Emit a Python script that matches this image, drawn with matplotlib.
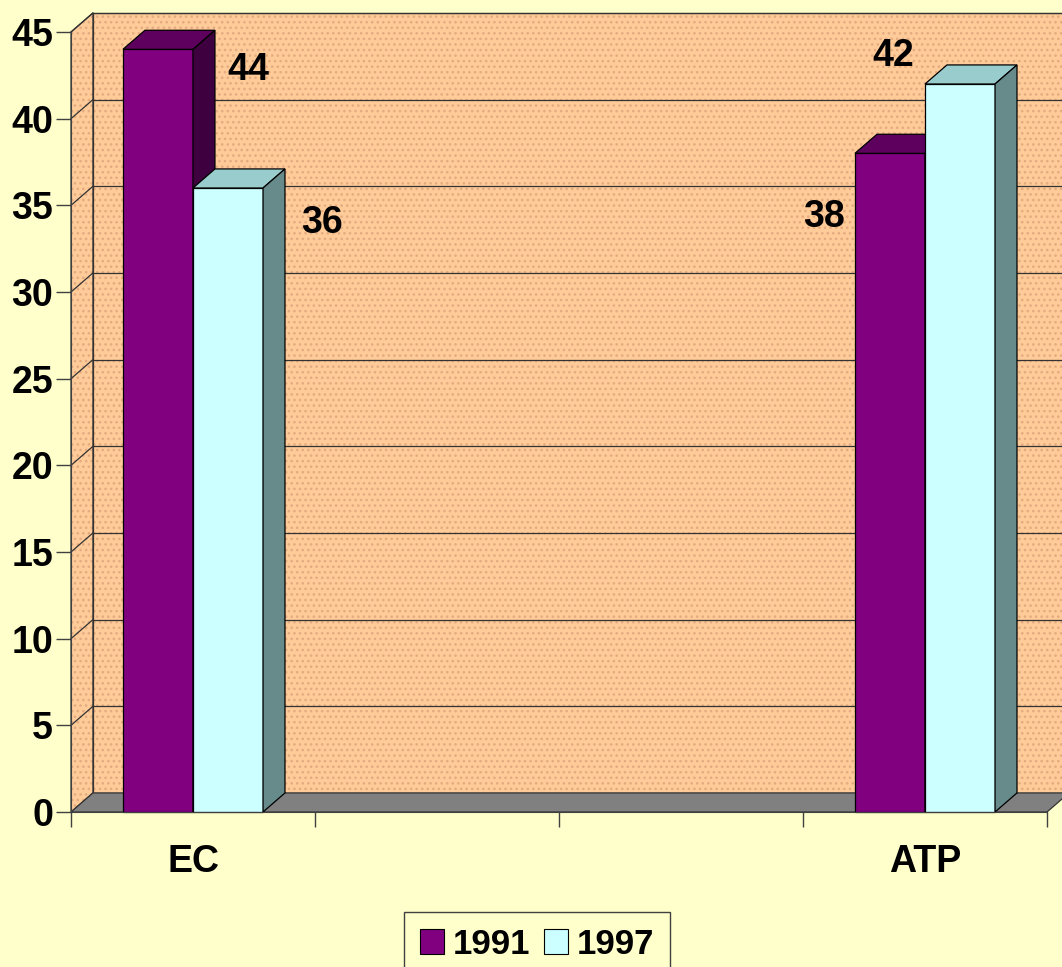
import numpy as np
import matplotlib.pyplot as plt
from matplotlib.patches import Polygon, Patch

# chart data
categories = ['EC', '', '', 'ATP']
series = ['1991', '1997']
values_1991 = [44, np.nan, np.nan, 38]
values_1997 = [36, np.nan, np.nan, 42]
yticks = [0, 5, 10, 15, 20, 25, 30, 35, 40, 45]

plt.rcParams['font.family'] = ['Liberation Sans Narrow', 'Liberation Sans', 'DejaVu Sans']
plt.rcParams['font.weight'] = 'bold'
plt.rcParams['hatch.linewidth'] = 1.1

bg = '#FFFFCC'
wall = '#FFCC99'
dots = '#E4AC80'
face_cols = [('#800080', '#5E005E', '#3E003E'), ('#CCFFFF', '#99CCCC', '#678A8A')]
fs = 27

fig = plt.figure(figsize=(10.62, 9.67), dpi=100, facecolor=bg)
ax = fig.add_axes([71 / 1062, 155 / 967, 976 / 1062, 780 / 967])
n = len(categories)
ymax = yticks[-1]
ax.set_xlim(0, n)
ax.set_ylim(0, ymax)
ax.patch.set_alpha(0)

dx = 0.09   # depth offset (category units)
dz = 1.1    # depth offset (value units)
w = 0.287   # bar width

def poly(pts, fc, ec='black', lw=0.9, z=1, hatch=None):
    p = Polygon(pts, closed=True, facecolor=fc, edgecolor=ec, linewidth=lw,
                zorder=z, clip_on=False, hatch=hatch)
    ax.add_patch(p)

# walls with dotted texture
back = [(dx, dz), (n + dx, dz), (n + dx, ymax + dz), (dx, ymax + dz)]
left = [(0, 0), (dx, dz), (dx, ymax + dz), (0, ymax)]
for pts in (back, left):
    poly(pts, wall, ec=dots, lw=0, z=0, hatch='...')
    poly(pts, 'none', ec='#333333', lw=0.9, z=0.5)

# gridlines on walls
for t in yticks[1:]:
    ax.plot([dx, n + dx], [t + dz, t + dz], color='#333333', lw=0.9, zorder=1, clip_on=False)
    ax.plot([0, dx], [t, t + dz], color='#333333', lw=0.9, zorder=1, clip_on=False)

# floor
poly([(0, 0), (n, 0), (n + dx, dz), (dx, dz)], '#808080', ec='#333333', z=2)

# 3D bars
for j, vals in enumerate([values_1991, values_1997]):
    front, top, side = face_cols[j]
    for i, v in enumerate(vals):
        if np.isnan(v):
            continue
        x0 = i + 0.5 - w + j * w
        x1 = x0 + w
        z = 3 + j
        poly([(x0, 0), (x1, 0), (x1, v), (x0, v)], front, z=z)
        poly([(x0, v), (x1, v), (x1 + dx, v + dz), (x0 + dx, v + dz)], top, z=z)
        poly([(x1, 0), (x1 + dx, dz), (x1 + dx, v + dz), (x1, v)], side, z=z)

# value labels (offsets from bar centre)
label_offsets = {(0, 0): (0.37, -1.2), (1, 0): (0.385, -2.0),
                 (0, 3): (-0.27, -3.7), (1, 3): (-0.275, 1.6)}
for j, vals in enumerate([values_1991, values_1997]):
    for i, v in enumerate(vals):
        if np.isnan(v):
            continue
        xc = i + 0.5 - w / 2 + j * w
        ox, oy = label_offsets[(j, i)]
        ax.text(xc + ox, v + oy, f'{v:g}', ha='center', va='center',
                fontsize=fs, fontweight='bold', zorder=10)

# axes
for s in ['top', 'right']:
    ax.spines[s].set_visible(False)
for s in ['left', 'bottom']:
    ax.spines[s].set_color('#404040')
    ax.spines[s].set_zorder(6)
ax.set_yticks(yticks)
ax.set_yticklabels([str(t) for t in yticks], fontsize=fs, fontweight='bold')
ax.tick_params(axis='y', length=11, width=1, color='#404040', pad=2)
ax.set_xticks(range(n + 1))
ax.set_xticklabels([])
ax.tick_params(axis='x', which='major', length=11, width=1, color='#404040')
ax.set_xticks([i + 0.5 for i in range(n)], categories, minor=True)
ax.tick_params(axis='x', which='minor', length=0, pad=23, labelsize=fs)
for lab in ax.get_xticklabels(minor=True):
    lab.set_fontweight('bold')

# legend
handles = [Patch(facecolor=face_cols[k][0], edgecolor='black', lw=0.8) for k in range(2)]
fig.legend(handles, series, loc='upper center', bbox_to_anchor=(537 / 1062, 1 - 912 / 967),
           ncol=2, frameon=True, fancybox=False, edgecolor='#404040', facecolor=bg,
           framealpha=1, prop={'size': 25, 'weight': 'bold'}, handlelength=0.7,
           handleheight=0.7, columnspacing=0.4, handletextpad=0.25, borderpad=0.45,
           borderaxespad=0)

fig.savefig('out.png', dpi=100, facecolor=bg)
